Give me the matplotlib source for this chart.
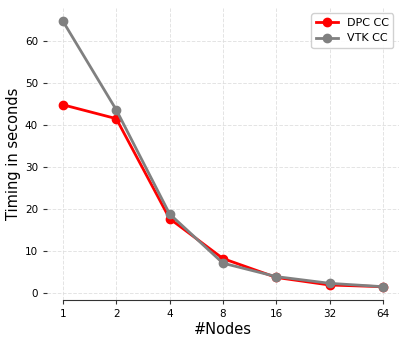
import matplotlib
matplotlib.use("Agg")
import matplotlib.pyplot as plt
from matplotlib.ticker import FixedLocator, FixedFormatter

nodes = [1, 2, 4, 8, 16, 32, 64]
dpc_cc = [44.7, 41.4, 17.6, 8.1, 3.6, 1.8, 1.4]
vtk_cc = [64.6, 43.5, 18.7, 7.0, 3.8, 2.2, 1.4]
tick_labels = ["1", "2", "4", "8", "16", "32", "64"]

fig = plt.figure(figsize=(4.08, 3.44), dpi=100)
ax = fig.add_axes([0.115, 0.128, 0.863, 0.849])

ax.plot(nodes, dpc_cc, color="red", marker="o", lw=2, ms=6, label="DPC CC")
ax.plot(nodes, vtk_cc, color="gray", marker="o", lw=2, ms=6, label="VTK CC")
ax.set_xscale("log", base=2)
ax.xaxis.set_major_locator(FixedLocator(nodes))
ax.xaxis.set_major_formatter(FixedFormatter(tick_labels))
ax.xaxis.set_minor_locator(FixedLocator([]))
ax.set_yticks([0, 10, 20, 30, 40, 50, 60])

ax.grid(True, ls="--", color="#dddddd", lw=0.7, alpha=0.8)
for s in ["top", "right", "left"]:
    ax.spines[s].set_visible(False)
ax.spines["bottom"].set_bounds(1, 64)
ax.spines["bottom"].set_color("#333333")
ax.tick_params(axis="both", labelsize=7.5, length=3, color="#333333")
ax.set_xlabel("#Nodes", fontsize=10.5, labelpad=2)
ax.set_ylabel("Timing in seconds", fontsize=10.5, labelpad=3)
ax.legend(loc="upper right", fontsize=8, fancybox=True, framealpha=0.9)

fig.savefig("out.png", dpi=100)
